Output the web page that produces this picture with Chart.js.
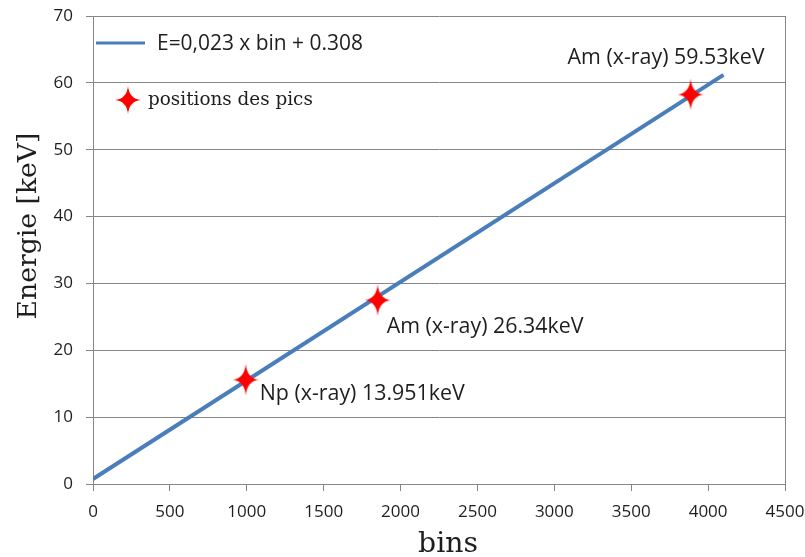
<!DOCTYPE html>
<html><head><meta charset="utf-8">
<script src="https://cdn.jsdelivr.net/npm/chart.js@4.4.1/dist/chart.umd.min.js"></script>
<style>html,body{margin:0;padding:0;background:#fff;}#wrap{width:805px;height:557px;position:relative;}</style>
</head><body><div id="wrap"><canvas id="c" width="805" height="557"></canvas></div>
<script>
// ---- data ----
const xTickValues = [0, 500, 1000, 1500, 2000, 2500, 3000, 3500, 4000, 4500];
const yTickValues = [0, 10, 20, 30, 40, 50, 60, 70];
const fitBins = [0, 4100];
const fitEnergies = [0.75, 61.2];
const peakBins = [993, 1851, 3886];
const peakEnergies = [15.6, 27.5, 58.25];
const peakLabels = ['Np (x-ray) 13.951keV', 'Am (x-ray) 26.34keV', 'Am (x-ray) 59.53keV'];
const fitLabel = 'E=0,023 x bin + 0.308';
const peakSeriesLabel = 'positions des pics';
const xTitle = 'bins';
const yTitle = 'Energie [keV]';

// ---- styles ----
const GRID = '#868686';
const TEXT = '#1e1e1e';
const BLUE = '#4A7EBB';
const RED = '#FF0000';
const SANS = '"Open Sans", sans-serif';
const SERIF = '"DejaVu Serif", serif';

function makeStar(w, h) {
  const c = document.createElement('canvas');
  c.width = w; c.height = h;
  const g = c.getContext('2d');
  const cx = w / 2, cy = h / 2, ox = w * 0.045, oy = h * 0.045;
  g.fillStyle = RED;
  g.beginPath();
  g.moveTo(cx, 0);
  g.quadraticCurveTo(cx + ox, cy - oy, w, cy);
  g.quadraticCurveTo(cx + ox, cy + oy, cx, h);
  g.quadraticCurveTo(cx - ox, cy + oy, 0, cy);
  g.quadraticCurveTo(cx - ox, cy - oy, cx, 0);
  g.closePath();
  g.fill();
  return c;
}
const plotStar = makeStar(26, 32);
const legendStar = makeStar(26, 28);

function fitSize(ctx, text, family, target) {
  ctx.save();
  ctx.font = '100px ' + family;
  const w = ctx.measureText(text).width;
  ctx.restore();
  return 100 * target / w;
}

const peakOffsets = [[14, 14, 'left'], [9, 27, 'left'], [-123, -37, 'left']];
const peakWidths = [205, 197, 197];

const textPlugin = {
  id: 'textPlugin',
  afterDatasetsDraw(chart) {
    const ctx = chart.ctx;
    const xs = chart.scales.x, ys = chart.scales.y;
    ctx.save();
    ctx.fillStyle = TEXT;
    ctx.textBaseline = 'middle';
    peakLabels.forEach((t, i) => {
      const px = xs.getPixelForValue(peakBins[i]);
      const py = ys.getPixelForValue(peakEnergies[i]);
      const s = fitSize(ctx, t, SANS, peakWidths[i]);
      ctx.font = s.toFixed(2) + 'px ' + SANS;
      ctx.textAlign = peakOffsets[i][2];
      ctx.fillText(t, px + peakOffsets[i][0], py + peakOffsets[i][1]);
    });
    // legend
    const a = chart.chartArea;
    ctx.strokeStyle = BLUE;
    ctx.lineWidth = 3;
    ctx.beginPath();
    ctx.moveTo(a.left + 3, 43);
    ctx.lineTo(a.left + 52, 43);
    ctx.stroke();
    ctx.textAlign = 'left';
    let s = fitSize(ctx, fitLabel, SANS, 206);
    ctx.font = s.toFixed(2) + 'px ' + SANS;
    ctx.fillText(fitLabel, a.left + 64, 44);
    ctx.drawImage(legendStar, 128 - 13, 100 - 14);
    s = fitSize(ctx, peakSeriesLabel, SERIF, 165);
    ctx.font = s.toFixed(2) + 'px ' + SERIF;
    ctx.fillText(peakSeriesLabel, 148, 100);
    // axis titles
    ctx.textAlign = 'center';
    s = fitSize(ctx, xTitle, SERIF, 60);
    ctx.font = s.toFixed(2) + 'px ' + SERIF;
    ctx.textBaseline = 'alphabetic';
    ctx.fillText(xTitle, 448, 552);
    s = fitSize(ctx, yTitle, SERIF, 187);
    ctx.font = s.toFixed(2) + 'px ' + SERIF;
    ctx.translate(36, 226);
    ctx.rotate(-Math.PI / 2);
    ctx.fillText(yTitle, 0, 0);
    ctx.restore();
  }
};

new Chart(document.getElementById('c'), {
  type: 'scatter',
  data: {
    datasets: [
      {
        label: peakSeriesLabel,
        data: peakBins.map((b, i) => ({ x: b, y: peakEnergies[i] })),
        pointStyle: plotStar,
        pointRadius: 14,
        showLine: false
      },
      {
        label: fitLabel,
        data: fitBins.map((b, i) => ({ x: b, y: fitEnergies[i] })),
        showLine: true,
        borderColor: BLUE,
        borderWidth: 4,
        pointRadius: 0,
        fill: false
      }
    ]
  },
  options: {
    responsive: false,
    animation: false,
    devicePixelRatio: 1,
    layout: { padding: { top: 16, right: 20, left: 0, bottom: 0 } },
    plugins: { legend: { display: false }, tooltip: { enabled: false } },
    scales: {
      x: {
        type: 'linear', min: 0, max: 4500,
        afterBuildTicks: (sc) => { sc.ticks = xTickValues.map(v => ({ value: v })); },
        afterFit: (sc) => { sc.height = 73; sc.paddingLeft = 0; sc.paddingRight = 0; },
        grid: {
          color: (c) => (c.tick && c.tick.value === 4500) ? GRID : 'rgba(0,0,0,0)',
          tickColor: GRID, tickLength: 7, lineWidth: 1
        },
        border: { display: true, color: GRID },
        ticks: { color: TEXT, font: { family: SANS, size: 17 }, padding: 11, maxRotation: 0, autoSkip: false,
          callback: (v) => String(v) }
      },
      y: {
        type: 'linear', min: 0, max: 70,
        afterBuildTicks: (sc) => { sc.ticks = yTickValues.map(v => ({ value: v })); },
        afterFit: (sc) => { sc.width = 93; sc.paddingTop = 0; sc.paddingBottom = 0; },
        grid: { color: GRID, tickColor: GRID, tickLength: 7, lineWidth: 1 },
        border: { display: true, color: GRID },
        ticks: { color: TEXT, font: { family: SANS, size: 17 }, padding: 13, callback: (v) => String(v) }
      }
    }
  },
  plugins: [textPlugin]
});
</script>
</body></html>
